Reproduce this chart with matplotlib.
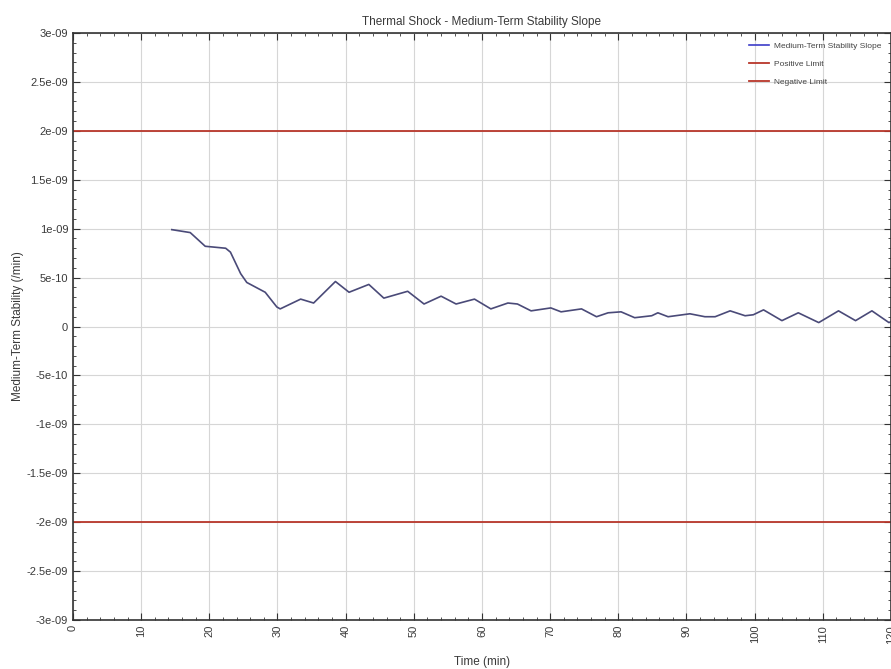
import matplotlib
matplotlib.use("Agg")
import matplotlib.pyplot as plt
from matplotlib.ticker import MultipleLocator

plt.rcParams["font.family"] = ["Liberation Sans", "DejaVu Sans"]

# Courbe (temps en min, pente en /min)
time_min = [14.5, 17.2, 19.4, 22.4, 23.1, 24.6, 25.5, 28.2, 29.9, 30.4, 33.4, 35.3,
            38.5, 40.5, 43.4, 45.6, 48.1, 49.1, 51.5, 54.0, 56.2, 58.9, 61.3, 63.8,
            65.2, 67.2, 70.1, 71.6, 74.6, 76.8, 78.5, 80.4, 82.4, 84.9, 85.8, 87.3,
            90.5, 92.7, 94.2, 96.4, 98.6, 99.8, 101.3, 104.0, 106.4, 109.4, 112.3,
            114.8, 117.2, 119.7, 120.0]
slope = [0.99e-9, 0.96e-9, 0.82e-9, 0.80e-9, 0.76e-9, 0.54e-9, 0.45e-9, 0.35e-9,
         0.20e-9, 0.18e-9, 0.28e-9, 0.24e-9, 0.46e-9, 0.35e-9, 0.43e-9, 0.29e-9,
         0.34e-9, 0.36e-9, 0.23e-9, 0.31e-9, 0.23e-9, 0.28e-9, 0.18e-9, 0.24e-9,
         0.23e-9, 0.16e-9, 0.19e-9, 0.15e-9, 0.18e-9, 0.10e-9, 0.14e-9, 0.15e-9,
         0.09e-9, 0.11e-9, 0.14e-9, 0.10e-9, 0.13e-9, 0.10e-9, 0.10e-9, 0.16e-9,
         0.11e-9, 0.12e-9, 0.17e-9, 0.06e-9, 0.14e-9, 0.04e-9, 0.16e-9, 0.06e-9,
         0.16e-9, 0.04e-9, 0.05e-9]

pos_limit = 2e-9
neg_limit = -2e-9

x_ticks = list(range(0, 121, 10))
y_ticks = [3e-9, 2.5e-9, 2e-9, 1.5e-9, 1e-9, 5e-10, 0, -5e-10, -1e-9, -1.5e-9,
           -2e-9, -2.5e-9, -3e-9]
y_labels = ["3e-09", "2.5e-09", "2e-09", "1.5e-09", "1e-09", "5e-10", "0", "-5e-10",
            "-1e-09", "-1.5e-09", "-2e-09", "-2.5e-09", "-3e-09"]

txt = "#3a3a3a"

fig = plt.figure(figsize=(8.91, 6.69), dpi=100)
ax = fig.add_axes([0.0819, 0.0732, 0.9181, 0.8775])

ax.plot(time_min, slope, color="#4a4a78", lw=1.2, label="Medium-Term Stability Slope")
ax.axhline(pos_limit, color="#b8362a", lw=1.3, label="Positive Limit")
ax.axhline(neg_limit, color="#b8362a", lw=1.3, label="Negative Limit")

ax.set_xlim(0, 120)
ax.set_ylim(-3e-9, 3e-9)
ax.set_xticks(x_ticks)
ax.set_xticklabels([str(t) for t in x_ticks], rotation=90, fontsize=8, color=txt)
ax.set_yticks(y_ticks)
ax.set_yticklabels(y_labels, fontsize=8, color=txt)
ax.xaxis.set_minor_locator(MultipleLocator(2))
ax.yaxis.set_minor_locator(MultipleLocator(1e-10))
ax.tick_params(which="both", direction="in", top=True, right=True, color="#333333")
ax.tick_params(which="major", length=5)
ax.tick_params(which="minor", length=2.5)
ax.grid(which="major", color="#d6d6d6", lw=0.8)

for s in ax.spines.values():
    s.set_color("#333333")
    s.set_linewidth(1.2)

ax.set_title("Thermal Shock - Medium-Term Stability Slope", fontsize=8.5, color=txt, pad=6)
ax.set_xlabel("Time (min)", fontsize=8.5, color=txt, labelpad=9)
ax.set_ylabel("Medium-Term Stability (/min)", fontsize=8.5, color=txt, labelpad=2)

leg = ax.legend(loc="upper right", frameon=False, fontsize=6, handlelength=2.3,
                labelspacing=1.2, borderaxespad=0.7, handletextpad=0.7)
leg.get_lines()[0].set_color("#3c3cc8")
for t in leg.get_texts():
    t.set_color("#444444")

fig.savefig("out.png", dpi=100)
